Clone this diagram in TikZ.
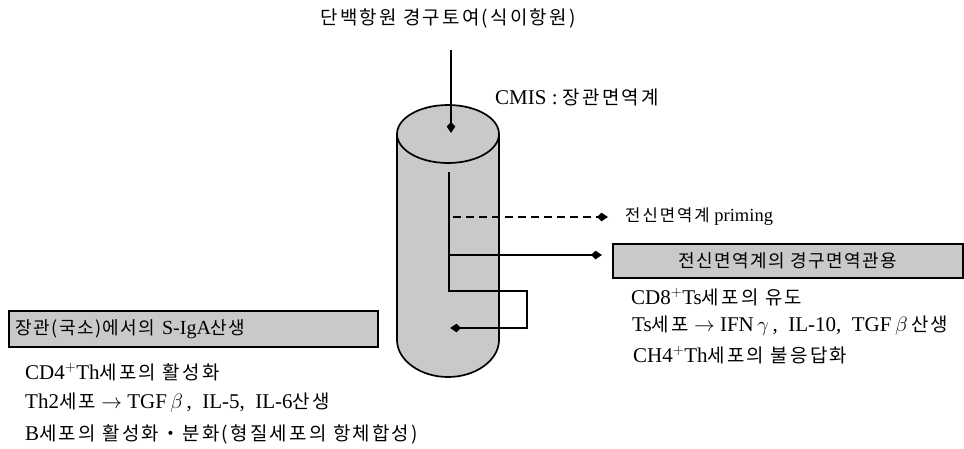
\documentclass[tikz,border=0pt]{standalone}
\usepackage{fontspec}
\setmainfont{Liberation Serif}
\newfontfamily\kr{Noto Sans CJK KR}[Scale=0.9, LetterSpace=12]
\newfontfamily\krb{Noto Sans CJK KR}[Scale=0.9, LetterSpace=8]
\usetikzlibrary{arrows.meta}
\tikzset{
  tipk/.style={-{Kite[length=11pt,width=8.5pt,inset=4.5pt]}},
  ln/.style={line width=1.4pt},
  txt/.style={anchor=west, inner sep=0pt, font=\fontsize{21}{23}\selectfont},
  graybox/.style={draw, line width=1.6pt, fill=gray!42, inner sep=0pt, font=\fontsize{20}{22}\selectfont},
  cyl/.style={line width=1.7pt},
}
\begin{document}
\begin{tikzpicture}[x=1pt,y=-1pt]
\useasboundingbox (0,0) rectangle (964,448);
% cylinder
\fill[gray!42] (397,134) -- (397,340) .. controls (397,360) and (420,377) .. (448,377) .. controls (476,377) and (499,360) .. (499,340) -- (499,134) -- cycle;
\fill[gray!42] (448,134) ellipse[x radius=51, y radius=29];
\draw[cyl] (397,134) -- (397,340) .. controls (397,360) and (420,377) .. (448,377) .. controls (476,377) and (499,360) .. (499,340) -- (499,134);
\draw[cyl] (448,134) ellipse[x radius=51, y radius=29];

% texts
\node[font=\fontsize{21}{23}\selectfont, inner sep=0pt] (src) at (448,18) {\kr 단백항원 경구토여(식이항원)};
\node[txt] (cmis) at (495,97) {CMIS : {\kr 장관면역계}};
\node[txt, font=\fontsize{18.5}{20}\selectfont] (prim) at (625,217) {{\kr 전신면역계} priming};

\node[graybox, minimum width=350pt, minimum height=34pt, anchor=north west] (rbox) at (612,243) {\krb 전신면역계의 경구면역관용\hspace{18pt}};
\node[graybox, text width=355pt, align=left, minimum height=36pt, inner xsep=7pt, anchor=north west] (lbox) at (8,310) {{\krb 장관(국소)에서의} S-IgA{\krb 산생}};

\node[txt] (r1) at (631,297) {CD8$^+$Ts{\kr 세포의 유도}};
\node[txt] (r2) at (632,326) {Ts{\kr 세포} $\rightarrow$ IFN\,$\gamma$\,,\ \ IL-10,\ \ TGF\,$\beta$\,{\kr 산생}};
\node[txt] (r3) at (633,355) {CH4$^+$Th{\kr 세포의 불응답화}};

\node[txt] (l1) at (25,372) {CD4$^+$Th{\kr 세포의 활성화}};
\node[txt] (l2) at (25,403) {Th2{\kr 세포} $\rightarrow$ TGF\,$\beta$\,,\ \ IL-5,\ \ IL-6{\kr 산생}};
\node[txt] (l3) at (25,434) {B{\kr 세포의 활성화・분화(형질세포의 항체합성)}};

% connectors
\coordinate (in0) at (451,50);
\coordinate (in1) at (451,133);
\draw[ln, tipk] (in0) -- (in1);

\coordinate (p0) at (449,172);
\coordinate (p1) at (449,291);
\coordinate (p2) at (527,291);
\coordinate (p3) at (527,328);
\coordinate (p4) at (450,328);
\draw[ln, tipk] (p0) -- (p1) -- (p2) -- (p3) -- (p4);

\coordinate (d0) at (453,217);
\draw[ln, tipk, dash pattern=on 8pt off 5pt, shorten >=17pt] (d0) -- (d0 -| prim.west);

\coordinate (s0) at (449,255);
\draw[ln, tipk, shorten >=10pt] (s0) -- (s0 -| rbox.west);
\end{tikzpicture}
\end{document}
